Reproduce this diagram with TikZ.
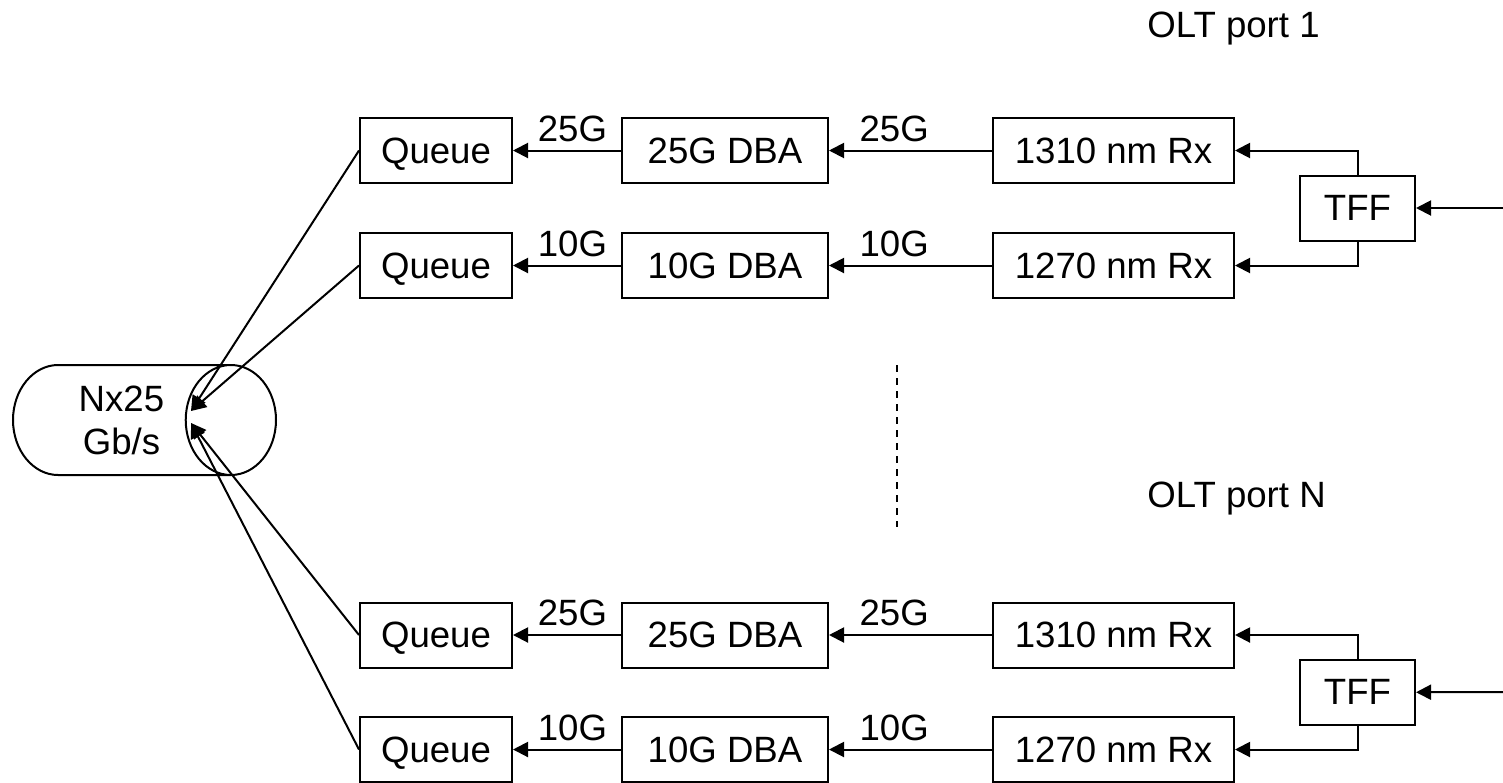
\documentclass[tikz,border=0pt]{standalone}
\usepackage{fontspec}
\setmainfont{Liberation Sans}
\usetikzlibrary{shapes.geometric,arrows.meta,positioning,calc}
\tikzset{
  block/.style={
    rectangle, draw=black, line width=1pt,
    minimum width=#1, minimum height=32.5pt,
    text height=14pt, text depth=1.4pt,
    inner sep=0pt},
  block/.default=76pt,
  bus/.style={
    cylinder, draw=black, line width=1pt, aspect=1.31,
    minimum width=55pt, minimum height=131.5pt,
    align=center, inner sep=0pt},
  rate/.style={inner sep=1pt},
  myarrow/.style={-{Triangle[length=7.5pt,width=7.5pt]}, line width=1pt},
  sepline/.style={dash pattern=on 3.5pt off 3pt, line width=0.75pt},
}
\begin{document}
\begin{tikzpicture}[x=0.5pt, y=-0.5pt, font=\fontsize{18.3}{21.5}\selectfont]
  \useasboundingbox (0,0) rectangle (1503,782);
  % port 1
  \node[anchor=base west, inner sep=0pt] (porta) at (1147,37) {OLT port 1};
  \node[block] (qa) at (436,150.5) {Queue};
  \node[block=103pt, right=54pt of qa] (dbaa) {25G DBA};
  \node[block=120.5pt, right=81.5pt of dbaa] (rxa) {1310 nm Rx};
  \node[block] (qb) at (436,265.5) {Queue};
  \node[block=103pt, right=54pt of qb] (dbab) {10G DBA};
  \node[block=120.5pt, right=81.5pt of dbab] (rxb) {1270 nm Rx};
  \node[block=57.5pt, right=32pt of $(rxa.east)!0.5!(rxb.east)$] (tffa) {TFF};
  \coordinate (ina) at (1503,208);
  % port N
  \node[anchor=base west, inner sep=0pt] (portn) at (1147,507) {OLT port N};
  \node[block] (qc) at (436,635) {Queue};
  \node[block=103pt, right=54pt of qc] (dbac) {25G DBA};
  \node[block=120.5pt, right=81.5pt of dbac] (rxc) {1310 nm Rx};
  \node[block] (qd) at (436,749.5) {Queue};
  \node[block=103pt, right=54pt of qd] (dbad) {10G DBA};
  \node[block=120.5pt, right=81.5pt of dbad] (rxd) {1270 nm Rx};
  \node[block=57.5pt, right=32pt of $(rxc.east)!0.5!(rxd.east)$] (tffb) {TFF};
  \coordinate (inb) at (1503,692);
  % aggregation
  \node[bus, anchor=shape center] (nx) at (144.5,420) {Nx25\\Gb/s};
  \coordinate (hubt) at ($(nx.east)+(-86,-9)$);
  \coordinate (hubb) at ($(nx.east)+(-86,3)$);
  \coordinate (dtop) at (897,365);
  \coordinate (dbot) at (897,527);
  \draw[sepline] (dtop) -- (dbot);

  \draw[myarrow] (ina) -- (tffa.east);
  \draw[myarrow] (tffa.north) |- (rxa.east);
  \draw[myarrow] (tffa.south) |- (rxb.east);
  \draw[myarrow] (rxa) -- node[rate, above=3pt, pos=0.6] {25G} (dbaa);
  \draw[myarrow] (rxb) -- node[rate, above=3pt, pos=0.6] {10G} (dbab);
  \draw[myarrow] (dbaa) -- node[rate, above=3pt, pos=0.45] {25G} (qa);
  \draw[myarrow] (dbab) -- node[rate, above=3pt, pos=0.45] {10G} (qb);

  \draw[myarrow] (inb) -- (tffb.east);
  \draw[myarrow] (tffb.north) |- (rxc.east);
  \draw[myarrow] (tffb.south) |- (rxd.east);
  \draw[myarrow] (rxc) -- node[rate, above=3pt, pos=0.6] {25G} (dbac);
  \draw[myarrow] (rxd) -- node[rate, above=3pt, pos=0.6] {10G} (dbad);
  \draw[myarrow] (dbac) -- node[rate, above=3pt, pos=0.45] {25G} (qc);
  \draw[myarrow] (dbad) -- node[rate, above=3pt, pos=0.45] {10G} (qd);

  \draw[myarrow] (qa.west) -- (hubt);
  \draw[myarrow] (qb.west) -- (hubt);
  \draw[myarrow] (qc.west) -- (hubb);
  \draw[myarrow] (qd.west) -- (hubb);
\end{tikzpicture}
\end{document}
